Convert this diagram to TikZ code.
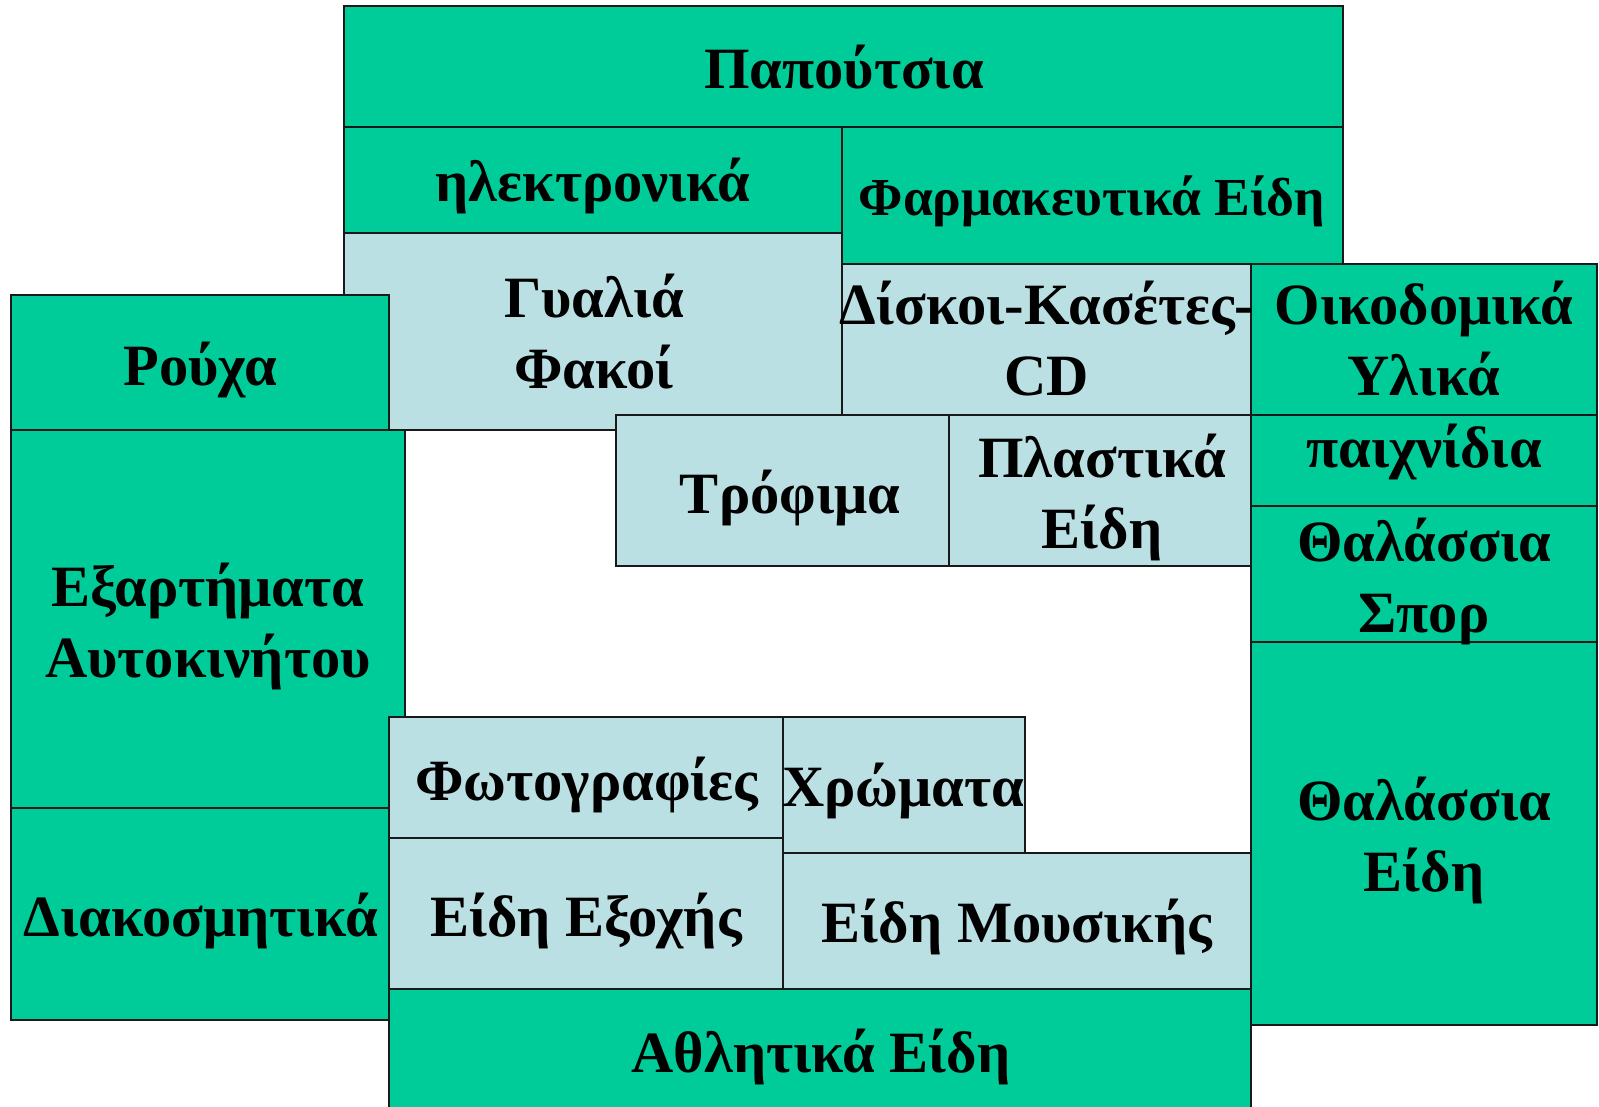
\documentclass[tikz,border=0pt]{standalone}
\usepackage{fontspec}
\setmainfont{Liberation Serif}
\begin{document}
\begin{tikzpicture}[x=1pt,y=-1pt,
  cell/.style={draw=black!90, line width=2pt},
  green/.style={cell, fill=catgreen},
  blue/.style={cell, fill=catblue},
  lbl/.style={inner sep=0pt, anchor=base, font=\fontsize{58.5}{71}\selectfont\bfseries},
  small/.style={font=\fontsize{53.5}{64}\selectfont\bfseries}]
\definecolor{catgreen}{RGB}{0,204,153}
\definecolor{catblue}{RGB}{187,224,227}
\newcommand\twolines[2]{\begin{tabular}[t]{@{}c@{}}#1\\#2\end{tabular}}
\useasboundingbox (0,0) rectangle (1599,1107);

% upper block
\path[green] (344,6)    rectangle (1343,127);
\path[green] (344,127)  rectangle (842,233);
\path[green] (842,127)  rectangle (1343,264);
\path[blue]  (344,233)  rectangle (842,430);
\path[blue]  (842,264)  rectangle (1251,415);
\path[green] (1251,264) rectangle (1597,415);
% left column
\path[green] (11,295)   rectangle (389,430);
\path[green] (11,430)   rectangle (405,808);
\path[green] (11,808)   rectangle (389,1020);
% middle row
\path[blue]  (616,415)  rectangle (965,566);
\path[blue]  (949,415)  rectangle (1251,566);
% right column
\path[green] (1251,415) rectangle (1597,506);
\path[green] (1251,506) rectangle (1597,642);
\path[green] (1251,642) rectangle (1597,1025);
% lower block
\path[blue]  (389,717)  rectangle (783,838);
\path[blue]  (783,717)  rectangle (1025,853);
\path[blue]  (389,838)  rectangle (783,989);
\path[blue]  (783,853)  rectangle (1251,989);
\path[green] (389,989)  rectangle (1251,1112);

% labels (placed on their first baseline)
\node[lbl] (papoutsia) at (844,89)  {Παπούτσια};
\node[lbl] (ilektr)    at (593,202) {ηλεκτρονικά};
\node[lbl,small] (farmak) at (1092,216) {Φαρμακευτικά Είδη};
\node[lbl] (gyalia)    at (594,318) {\twolines{Γυαλιά}{Φακοί}};
\node[lbl] (diskoi)    at (1047,325) {\twolines{Δίσκοι-Κασέτες-}{CD}};
\node[lbl] (oikodom)   at (1424,325) {\twolines{Οικοδομικά}{Υλικά}};
\node[lbl] (rouxa)     at (200,385) {Ρούχα};
\node[lbl] (trofima)   at (790,513) {Τρόφιμα};
\node[lbl] (plastika)  at (1102,477) {\twolines{Πλαστικά}{Είδη}};
\node[lbl] (paixn)     at (1424,467) {παιχνίδια};
\node[lbl] (thalspor)  at (1424,561) {\twolines{Θαλάσσια}{Σπορ}};
\node[lbl] (exart)     at (208,606) {\twolines{Εξαρτήματα}{Αυτοκινήτου}};
\node[lbl] (thaleidi)  at (1424,820) {\twolines{Θαλάσσια}{Είδη}};
\node[lbl] (fotogr)    at (587,800) {Φωτογραφίες};
\node[lbl] (xromata)   at (903,806) {Χρώματα};
\node[lbl] (diakosm)   at (201,936) {Διακοσμητικά};
\node[lbl] (exoxis)    at (586,936) {Είδη Εξοχής};
\node[lbl] (mousikis)  at (1017,942) {Είδη Μουσικής};
\node[lbl] (athlitika) at (821,1072) {Αθλητικά Είδη};
\end{tikzpicture}
\end{document}
